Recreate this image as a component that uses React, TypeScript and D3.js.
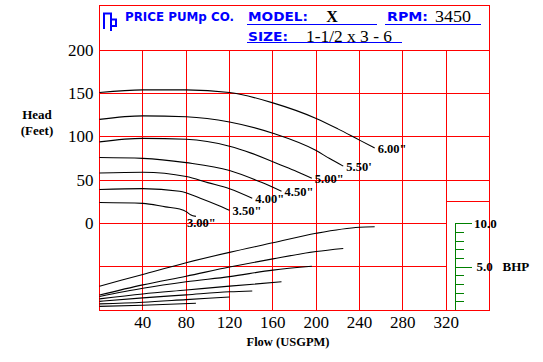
import React from 'react';
import * as d3 from 'd3';

// impeller diameters, smallest first
const diameters = ['3.00"', '3.50"', '4.00"', '4.50"', '5.00"', "5.50'", '6.00"'];

// head curves [flow USGPM, head ft]
const head300 = [[0, 24], [40, 23], [61, 19], [74, 16.5], [80, 13.5], [84, 10], [89, 8]];
const head350 = [[0, 39], [40, 40], [74, 37], [93, 29], [111, 20], [120, 15]];
const head400 = [[0, 58], [40, 59], [80, 54], [100, 47], [120, 40], [141, 29]];
const head450 = [[0, 76], [40, 75], [80, 70], [120, 61], [150, 47], [168, 37]];
const head500 = [[0, 94], [40, 98], [80, 97], [120, 89], [140, 81], [160, 71], [180, 61], [196, 52]];
const head550 = [[0, 120], [40, 124], [80, 123], [120, 117], [160, 104], [200, 84], [212, 75], [225, 66]];
const head600 = [[0, 151], [40, 154], [80, 154], [120, 151], [160, 139], [200, 121], [220, 109], [240, 96], [254, 87]];

// brake horsepower curves [flow USGPM, BHP]
const bhp300 = [[0, 0.42], [40, 0.55], [89, 0.78]];
const bhp350 = [[0, 0.7], [40, 0.9], [80, 1.2], [120, 1.5]];
const bhp400 = [[0, 1.0], [40, 1.4], [80, 1.75], [120, 2.1], [141, 2.2]];
const bhp450 = [[0, 1.28], [40, 1.85], [80, 2.3], [120, 2.75], [168, 3.25]];
const bhp500 = [[0, 1.55], [40, 2.5], [80, 3.25], [120, 3.85], [160, 4.6], [196, 5.05]];
const bhp550 = [[0, 1.73], [40, 2.9], [80, 3.9], [120, 4.95], [160, 5.9], [200, 6.75], [225, 7.1]];
const bhp600 = [[0, 2.75], [40, 4.1], [80, 5.45], [120, 6.65], [160, 7.75], [200, 8.85], [240, 9.55], [254, 9.6]];

const headCurves = [head300, head350, head400, head450, head500, head550, head600];
const bhpCurves = [bhp300, bhp350, bhp400, bhp450, bhp500, bhp550, bhp600];

const flowTicks = [40, 80, 120, 160, 200, 240, 280, 320];
const headTicks = [0, 50, 100, 150, 200];
const bhpMajor = [5, 10];
const bhpMinor = [1, 2, 3, 4, 6, 7, 8, 9];

const model = 'X';
const rpm = '3450';
const size = '1-1/2 x 3 - 6';

const RED = '#ff0000';
const BLUE = '#0000ff';
const GREEN = '#008000';
const SERIF = '"Liberation Serif", "DejaVu Serif", serif';
const BLOCK = '"DejaVu Sans", Verdana, sans-serif';

const App = () => {
    const x = d3.scaleLinear().domain([0, 360]).range([99.5, 489.5]);
    const y = d3.scaleLinear().domain([-100, 200]).range([310, 50]);
    const yB = d3.scaleLinear().domain([0, 10]).range([310, 223.3]);

    const headLine = d3.line<number[]>()
        .x(d => x(d[0]))
        .y(d => y(d[1]))
        .curve(d3.curveMonotoneX);
    const bhpLine = d3.line<number[]>()
        .x(d => x(d[0]))
        .y(d => yB(d[1]))
        .curve(d3.curveMonotoneX);

    const left = x(0), right = x(360), top = 5.5, bottom = y(-100);
    const xSplit = x(320);
    const bAxisX = 455.5;

    return (
        <svg width={543} height={362} style={{ position: 'absolute', left: 0, top: 0, background: '#fff' }}>
            {/* grid */}
            <g stroke={RED} strokeWidth={1} shapeRendering="crispEdges">
                <rect x={left} y={top} width={right - left} height={bottom - top} fill="none" />
                {[200, 150, 100, 50].map(h => (
                    <line key={h} x1={left} x2={right} y1={y(h)} y2={y(h)} />
                ))}
                {[0, -50].map(h => (
                    <line key={h} x1={left} x2={xSplit} y1={y(h)} y2={y(h)} />
                ))}
                <line x1={xSplit} x2={right} y1={y(25)} y2={y(25)} />
                {flowTicks.map(q => (
                    <line key={q} x1={x(q)} x2={x(q)} y1={y(200)} y2={bottom} />
                ))}
            </g>

            {/* header */}
            <path d="M104,29 V13.5 H111 V31 M111,19.5 H116 V26 H111"
                fill="none" stroke={BLUE} strokeWidth={2} />
            <g fill={BLUE} fontFamily={BLOCK} fontWeight="bold" fontSize={11.5}>
                <text x={125} y={21} textLength={109} lengthAdjust="spacingAndGlyphs">PRICE PUMp CO.</text>
                <text x={248} y={20.5} textLength={60} lengthAdjust="spacingAndGlyphs">MODEL:</text>
                <text x={387} y={20.5} textLength={41} lengthAdjust="spacingAndGlyphs">RPM:</text>
                <text x={248} y={41} textLength={40} lengthAdjust="spacingAndGlyphs">SIZE:</text>
            </g>
            <g stroke={BLUE} strokeWidth={1} shapeRendering="crispEdges">
                <line x1={247} x2={377} y1={24.5} y2={24.5} />
                <line x1={385} x2={481} y1={24.5} y2={24.5} />
                <line x1={247} x2={402} y1={42.5} y2={42.5} />
            </g>
            <g fill="#000" fontFamily={SERIF} fontSize={16}>
                <text x={332} y={22} textAnchor="middle" fontWeight="bold">{model}</text>
                <text x={435} y={22} textLength={36} lengthAdjust="spacingAndGlyphs">{rpm}</text>
                <text x={306} y={41.5} textLength={86} lengthAdjust="spacingAndGlyphs">{size}</text>
            </g>

            {/* head + flow axes */}
            <g fontFamily={SERIF} fontSize={17} fill="#000">
                {headTicks.map(h => (
                    <text key={h} x={93.5} y={y(h)} dy="0.33em" textAnchor="end">{h}</text>
                ))}
                {flowTicks.map(q => (
                    <text key={q} x={x(q)} y={327.5} textAnchor="middle">{q}</text>
                ))}
            </g>
            <g fontFamily={SERIF} fontSize={13} fontWeight="bold" fill="#000" textAnchor="middle">
                <text x={37} y={119}>Head</text>
                <text x={37} y={135}>(Feet)</text>
                <text x={288} y={346} fontSize={12.5}>Flow (USGPM)</text>
            </g>

            {/* BHP axis */}
            <g stroke={GREEN} strokeWidth={1} shapeRendering="crispEdges">
                <line x1={bAxisX} x2={bAxisX} y1={yB(10)} y2={bottom} />
                {bhpMajor.map(b => (
                    <line key={b} x1={bAxisX} x2={bAxisX + 16} y1={Math.round(yB(b)) + 0.5} y2={Math.round(yB(b)) + 0.5} />
                ))}
                {bhpMinor.map(b => (
                    <line key={b} x1={bAxisX} x2={bAxisX + 8} y1={Math.round(yB(b)) + 0.5} y2={Math.round(yB(b)) + 0.5} />
                ))}
            </g>
            <g fontFamily={SERIF} fontSize={13} fontWeight="bold" fill="#000">
                <text x={474} y={yB(10)} dy="0.35em">10.0</text>
                <text x={476.5} y={yB(5)} dy="0.35em">5.0</text>
                <text x={502.5} y={yB(5)} dy="0.35em">BHP</text>
            </g>

            {/* curves */}
            <g fill="none" stroke="#000" strokeWidth={1.1}>
                {headCurves.map((c, i) => <path key={'h' + i} d={headLine(c) || ''} />)}
                {bhpCurves.map((c, i) => <path key={'b' + i} d={bhpLine(c) || ''} />)}
            </g>
            <g fontFamily={SERIF} fontSize={12.5} fontWeight="bold" fill="#000">
                {headCurves.map((c, i) => {
                    const end = c[c.length - 1];
                    const first = i === 0;
                    return (
                        <text key={i} x={x(end[0]) + (first ? -9 : 3)} y={y(end[1]) + (first ? 11 : 5)}>
                            {diameters[i]}
                        </text>
                    );
                })}
            </g>
        </svg>
    );
};

export default App;
